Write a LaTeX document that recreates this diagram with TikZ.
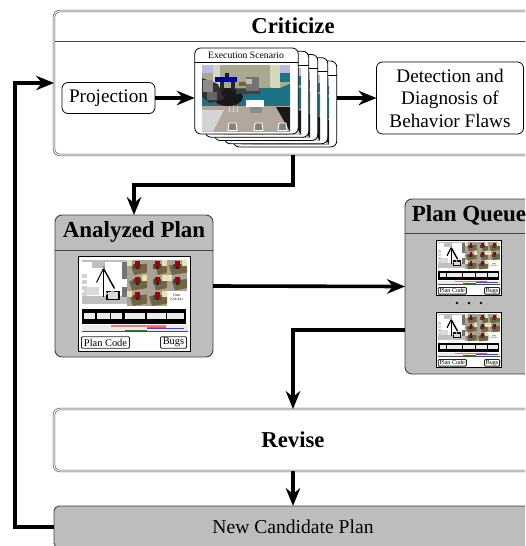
\documentclass[tikz,border=0pt]{standalone}
\usepackage{fontspec}
\setmainfont{Liberation Serif}
\usetikzlibrary{arrows.meta,calc}
\definecolor{panelgray}{HTML}{BDBDBD}
\definecolor{edgegray}{HTML}{444444}
\definecolor{tealfloor}{HTML}{1B7486}
\definecolor{sage}{HTML}{A9A98F}
\definecolor{palewall}{HTML}{D5D9BC}
\definecolor{lav}{HTML}{B9B9EA}
\definecolor{tanfloor}{HTML}{B3A69C}
\definecolor{brownfloor}{HTML}{75653F}
\definecolor{pathgray}{HTML}{A8A296}
\definecolor{cream}{HTML}{E8E2AE}
\tikzset{
  x=1pt,y=-1pt,
  every node/.style={inner sep=0pt,outer sep=0pt,align=center},
  procbox/.style={rectangle,rounded corners=6pt,draw=edgegray,line width=.6pt,double=white,double distance=1.1pt,fill=white},
  graybox/.style={rectangle,rounded corners=7pt,draw=black!75,line width=.9pt,fill=panelgray},
  plainbox/.style={rectangle,rounded corners=6pt,draw=black,line width=.8pt,fill=white},
  cardbox/.style={rectangle,rounded corners=6pt,draw=black,line width=.8pt,fill=white},
  headline/.style={line width=.9pt,draw=edgegray},
  titletext/.style={font=\fontsize{22.7}{26}\selectfont\bfseries},
  bodytext/.style={font=\fontsize{19.2}{22.5}\selectfont},
  flow/.style={line width=4.2pt,-{Stealth[length=18pt,width=14.5pt,inset=6pt]}},
  btn/.style={rectangle,draw=black!85,line width=.9pt,fill=white,rounded corners=1pt,font=\fontsize{10.4}{12}\selectfont,transform shape},
}
% one 3D scene view: 88 x 66 units, local origin top left
\newcommand{\sceneview}[2]{%
\begin{scope}[shift={(#1,#2)}]
  \begin{scope}
  \clip (0,0) rectangle (88,66.5);
  \fill[tanfloor] (0,0) rectangle (88,66.5);
  \fill[sage] (0,0) rectangle (88,24);
  \fill[lav] (0,0) rectangle (12,8);
  \fill[lav] (76,0) rectangle (88,10);
  \fill[palewall] (11,0) rectangle (18,24);
  \fill[palewall] (68,0) -- (78,0) -- (78,25) -- (68,22) -- cycle;
  \fill[tealfloor] (78,8) rectangle (88,17);
  \fill[tealfloor] (0,23) -- (78,23) -- (88,19) -- (88,40) -- (0,40) -- cycle;
  \fill[black!90] (74,42) -- (88,42) -- (88,66.5) -- cycle;
  \fill[black!65] (0,39.5) rectangle (88,41);
  \fill[black!17] (0,45) -- (22,45) -- (11,66.5) -- (0,66.5) -- cycle;
  \fill[white] (44,35) rectangle (62,42);
  \fill[black!45] (48,42) rectangle (60,48);
  % robot
  \fill[black!90] (26,32) ellipse (15 and 9);
  \fill[black!80] (0,13) -- (16,19) -- (22,34) -- (8,38) -- (0,32) -- cycle;
  \fill[black!45] (1,15) rectangle (11,27);
  \fill[black!60] (5,27) rectangle (15,35);
  \fill[black!90] (23,8) rectangle (27,14);
  \fill[blue!60!black] (13,12) rectangle (35,17);
  \fill[black!85] (18,17) rectangle (22,26);
  \fill[black!85] (29,17) rectangle (33,26);
  \fill[black!75] (34,24) rectangle (58,29);
  \fill[black!55] (44,12) rectangle (57,26);
  \fill[black!25] (44,14) rectangle (50,19);
  \fill[brown!70!black] (37,17) rectangle (44,21);
  % tools on the floor
  \draw[white,line width=.4pt] (28,41) -- (27,47) (32,41) -- (31,47) (36,41) -- (35,47) (26,46) -- (38,46);
  % plates
  \foreach \px in {27,53,77}{\draw[white,fill=black!50,line width=.9pt] (\px,58)--(\px+7,58)--(\px+8,65.5)--(\px-1,65.5)--cycle;}
  \end{scope}
\end{scope}}
% plan overview thumbnail: 111.5 x 94.7 units, origin top left
\newcommand{\tile}[4]{%
  \begin{scope}[shift={(#1,#2)}]
    \fill[pathgray] (0,0) rectangle (20,15.5);
    \fill[brownfloor] (#3,6) -- (20,4) -- (20,13) -- (#3+3,15.5) -- cycle;
    \fill[cream] (#4,0) rectangle (#4+5,6);
    \fill[black!70] (6,4) rectangle (14,9);
    \fill[red!65!black] (8,1.5) rectangle (12.5,7);
    \fill[black!85] (9,7) rectangle (11.5,9.5);
  \end{scope}}
\newcommand{\planthumb}[4]{%
\begin{scope}[shift={(#2,#3)},scale=#4,transform shape]
  \fill[white] (0,0) rectangle (111.5,94.7);
  \draw[black,line width=.9pt] (0,0) rectangle (111.5,94.7);
  % map
  \fill[black!25] (3,3) rectangle (48,5);
  \fill[black!25] (13,5) rectangle (26,11);
  \fill[black!25] (3,39) rectangle (48,47);
  \fill[black!15] (5,30) rectangle (20,38);
  \fill[black!55] (43,5) rectangle (48,22);
  \fill[black!55] (43,30) rectangle (48,40);
  \foreach \sy in {17,23,29,35}{\fill[black!18] (3,\sy) rectangle (8,\sy+4);}
  \draw[black,line width=1.1pt] (25,12) -- (25,40);
  \draw[black,line width=1.4pt] (25,12) -- (36,32);
  \draw[black,line width=1.1pt] (25,12) -- (18,26);
  \draw[black,line width=1.1pt,fill=white!85!black] (28.5,35) rectangle (40.5,43);
  \fill[blue!50] (24,9.5) rectangle (26,12);
  \fill[red!40] (28,37) circle (1.5);
  \fill[red!40] (34,35) circle (1.5);
  % camera tiles
  \tile{48.5}{3}{4}{0}
  \tile{68.5}{3}{8}{15}
  \tile{88.5}{3}{2}{15}
  \tile{48.5}{18.5}{2}{15}
  \tile{68.5}{18.5}{6}{15}
  \tile{88.5}{18.5}{5}{0}
  \tile{48.5}{34}{3}{0}
  \tile{68.5}{34}{2}{15}
  \node[font=\fontsize{3.6}{4}\selectfont,transform shape] (#1time) at (98,41) {Time\\2:34:44 s};
  % timeline strip
  \fill[black] (3,52) rectangle (107,67);
  \foreach \ba/\bb in {5.5/16.5,18.5/31,32/43.5,46/66,68/87,88/105}{\fill[black!8] (\ba,56) rectangle (\bb,62.5);}
  \fill[black!8] (3,68.5) rectangle (109,74);
  \fill[red!55] (32,68.5) rectangle (87,70.5);
  \fill[blue!75] (68,71) rectangle (105,72.5);
  \fill[red!70] (68,70) rectangle (87,71);
  \fill[green!60!black] (46,73) rectangle (68,74.5);
  \draw[black!70,line width=.6pt] (3,75) -- (109,75);
  % buttons
  \node[btn,minimum width=48pt,minimum height=11.5pt] (#1code) at (27,86) {Plan Code};
  \node[btn,minimum width=26pt,minimum height=11.5pt] (#1bugs) at (95,86) {Bugs};
\end{scope}}
\begin{document}
\begin{tikzpicture}
\useasboundingbox (0,0) rectangle (525,546);
\clip (0,0) rectangle (525,546);
\fill[white] (0,0) rectangle (525,546);

% Criticize panel
\node[procbox,minimum width=478pt,minimum height=144pt] (crit) at (293,83) {};
\node[titletext] (crittitle) at (293,26) {Criticize};
\draw[headline] (55,41) -- (531,41);

\node[plainbox,minimum width=93pt,minimum height=31pt,bodytext] (proj) at (108.5,98) {Projection};

% stack of scenario cards, rearmost first
\foreach \cx/\cy/\nm in {285/104/cardE,276/100.7/cardD,266/97.5/cardC,257/94.3/cardB}{
  \node[cardbox,minimum width=103.5pt,minimum height=86pt] (\nm) at (\cx,\cy) {};
  \draw[line width=.8pt] ($(\nm.north west)+(0,14)$) -- ($(\nm.north east)+(0,14)$);
  \sceneview{\cx-44}{\cy-26}
}
\node[cardbox,minimum width=103.5pt,minimum height=86pt] (cardA) at (246.5,91) {};
\draw[line width=.8pt] ($(cardA.north west)+(0,14)$) -- ($(cardA.north east)+(0,14)$);
\node[font=\fontsize{9.7}{11}\selectfont] (cardtitle) at (246,55.5) {Execution Scenario};
\sceneview{202}{65}

\node[plainbox,minimum width=147pt,minimum height=72pt,bodytext] (detect) at (450,98) {Detection and\\Diagnosis of\\Behavior Flaws};

% Analyzed plan
\node[graybox,minimum width=158pt,minimum height=142pt] (analyzed) at (134,286) {};
\node[titletext,font=\fontsize{23}{26}\selectfont\bfseries] (antitle) at (134,232) {Analyzed Plan};
\draw[headline] (55,250) -- (213,250);
\planthumb{an}{78.5}{256.5}{1}

% Plan queue
\node[graybox,minimum width=128pt,minimum height=175pt] (queue) at (469,286.5) {};
\node[titletext,font=\fontsize{23}{26}\selectfont\bfseries] (qtitle) at (469,215) {Plan Queue};
\draw[headline] (405,233) -- (533,233);
\planthumb{qa}{436.5}{240.5}{.585}
\planthumb{qb}{436.5}{312.5}{.585}
\foreach \dx/\nm in {457/dotA,469/dotB,481/dotC}{\node[circle,fill=black,minimum size=2.6pt] (\nm) at (\dx,303) {};}

% Revise and new plan
\node[procbox,minimum width=478pt,minimum height=62pt] (revise) at (293,440) {};
\node[titletext] (revtitle) at (293,440) {Revise};
\node[graybox,rounded corners=5pt,minimum width=478pt,minimum height=42pt] (newplan) at (293,527) {};
\node[font=\fontsize{19.6}{22}\selectfont] (newtitle) at (293,527) {New Candidate Plan};

% connectors
\coordinate (fbcorner) at (15,527);
\coordinate (q1) at (405,330);
\coordinate (c1) at (293,185);
\draw[flow,line width=4pt] (newplan.west) -- (fbcorner) |- (crit.west);
\draw[flow,line width=4.8pt] (proj.east) -- (proj.east -| cardA.west);
\draw[flow,line width=4.8pt] (proj.east -| cardE.east) -- (proj.east -| detect.west);
\draw[flow,line width=4.6pt] (crit.south) -- (c1) -| (analyzed.north);
\draw[flow,line width=3.6pt] (analyzed.east) -- (queue.west);
\draw[flow,line width=4pt] (q1) -| (revise.north);
\draw[flow,line width=4pt] (revise.south) -- (newplan.north);
\end{tikzpicture}
\end{document}
